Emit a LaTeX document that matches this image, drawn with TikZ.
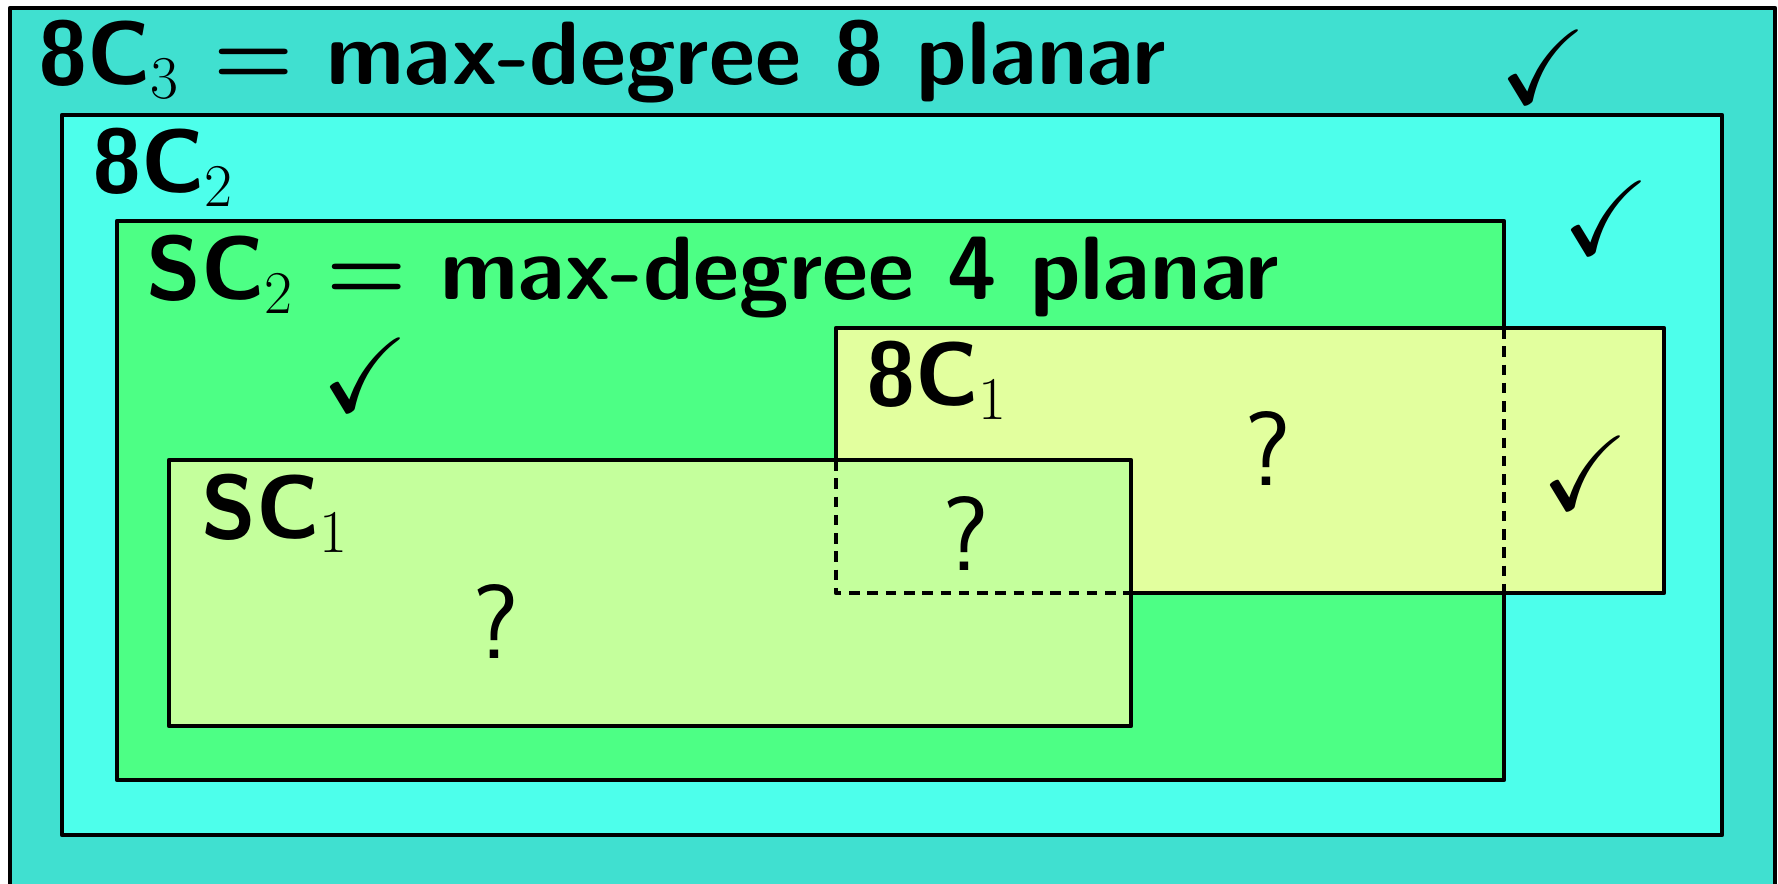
\documentclass[tikz,border=0pt]{standalone}
\usepackage{amsmath,amssymb}
\usepackage{xcolor}
\usepackage{tikz}
\definecolor{cTurq}{HTML}{40E0D0}
\definecolor{cAqua}{HTML}{4DFFEB}
\definecolor{cMint}{HTML}{4DFF85}
\definecolor{cLime}{HTML}{E2FF9E}
\definecolor{cPale}{HTML}{C4FF9C}
\font\namefont=cmssbx10 at 25.6pt
\font\eqfont=cmbx10 at 25.6pt
\newcommand{\beq}{{\eqfont=}}

\begin{document}
\begin{tikzpicture}[x=1cm,y=-1cm,line width=1.2pt,line join=round,
  setname/.style={anchor=base west,inner sep=0pt,
    font=\fontsize{25.6}{30}\selectfont\namefont},
  unknown/.style={inner sep=0pt,font=\fontsize{30}{34}\selectfont\sffamily},
  okmark/.style={inner sep=0pt,font=\fontsize{30}{34}\selectfont},
  hidden/.style={dash pattern=on 3pt off 2.2pt}]
  \clip (0,0) rectangle (17.78,8.84);
  % nested classes
  \fill[cTurq] (0.10,0.08) rectangle (17.75,9.20);
  \draw (0.10,0.08) rectangle (17.75,9.20);
  \fill[cAqua] (0.62,1.15) rectangle (17.22,8.35);
  \draw (0.62,1.15) rectangle (17.22,8.35);
  \fill[cMint] (1.17,2.21) rectangle (15.04,7.80);
  \draw (1.17,2.21) rectangle (15.04,7.80);
  \fill[cLime] (8.36,3.28) rectangle (16.64,5.93);
  \draw (8.36,3.28) rectangle (16.64,5.93);
  \draw[hidden] (15.04,3.28) -- (15.04,5.93);
  \fill[cPale] (1.69,4.60) rectangle (11.31,7.26);
  \draw (1.69,4.60) rectangle (11.31,7.26);
  \draw[hidden] (8.36,4.60) -- (8.36,5.93) -- (11.31,5.93);
  % names
  \node[setname] (eightC3) at (0.36,0.85) {8C$_3$ \beq{} max-degree 8 planar};
  \node[setname] (eightC2) at (0.90,1.93) {8C$_2$};
  \node[setname] (sC2) at (1.44,3.00) {SC$_2$ \beq{} max-degree 4 planar};
  \node[setname] (eightC1) at (8.64,4.06) {8C$_1$};
  \node[setname] (sC1) at (1.99,5.39) {SC$_1$};
  % open cases
  \node[unknown] (q1) at (12.68,4.48) {?};
  \node[unknown] (q2) at (9.66,5.33) {?};
  \node[unknown] (q3) at (4.96,6.21) {?};
  % settled cases
  \node[okmark] (ok1) at (15.43,0.67) {$\checkmark$};
  \node[okmark] (ok2) at (16.06,2.18) {$\checkmark$};
  \node[okmark] (ok3) at (3.65,3.75) {$\checkmark$};
  \node[okmark] (ok4) at (15.85,4.73) {$\checkmark$};
\end{tikzpicture}
\end{document}
